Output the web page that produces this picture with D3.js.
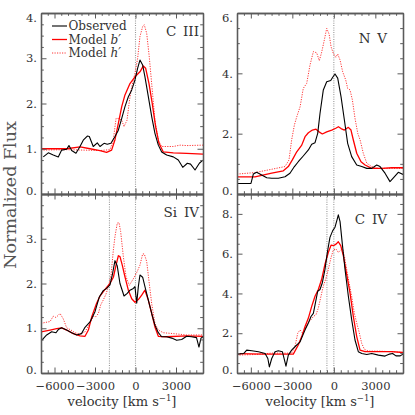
<!DOCTYPE html>
<html>
<head>
<meta charset="utf-8">
<script src="https://cdn.jsdelivr.net/npm/d3@7"></script>
<style>
  body { margin: 0; background: #fff; }
  text { font-family: "DejaVu Serif", serif; fill: #333; }
</style>
</head>
<body>
<div id="chart"></div>
<script>
// Line profiles, [velocity km/s, normalized flux]
const ciiiObserved = [[-6830,0.82],[-6460,0.91],[-6090,0.86],[-5720,0.82],[-5470,0.97],[-5100,0.99],[-4930,1.07],[-4730,0.96],[-4410,0.90],[-4110,1.05],[-3870,1.19],[-3570,1.28],[-3420,1.27],[-3130,1.05],[-2830,1.13],[-2630,1.05],[-2330,1.12],[-2090,1.10],[-1820,1.12],[-1520,1.27],[-1270,1.41],[-1020,1.67],[-780,1.93],[-530,2.15],[-280,2.30],[-40,2.52],[160,2.78],[330,2.96],[530,2.85],[700,2.59],[950,2.15],[1200,1.71],[1440,1.34],[1690,1.08],[1940,0.93],[2310,0.86],[2800,0.82],[3170,0.75],[3500,0.59],[3840,0.68],[4080,0.66],[4410,0.53],[4730,0.68],[5000,0.75]]
const ciiiModelB = [[-7000,1.0],[-5100,1.0],[-4100,1.04],[-3370,1.0],[-2630,0.96],[-2140,0.92],[-1770,0.97],[-1520,1.2],[-1270,1.56],[-1020,1.93],[-780,2.19],[-410,2.44],[-40,2.59],[330,2.70],[580,2.83],[750,2.78],[1000,2.44],[1240,2.0],[1490,1.49],[1740,1.12],[2060,0.93],[2800,0.91],[3790,0.90],[5000,0.88]]
const ciiiModelH = [[-7000,0.97],[-5100,0.98],[-2630,0.96],[-1890,0.98],[-1640,1.2],[-1440,1.67],[-1270,1.67],[-1020,1.63],[-850,1.49],[-630,1.63],[-440,2.08],[-280,2.37],[-40,2.67],[160,3.0],[330,3.48],[530,3.70],[650,3.74],[830,3.55],[1020,3.03],[1240,2.30],[1440,1.63],[1690,1.19],[1940,1.05],[2310,1.05],[2800,1.05],[3300,1.08],[3790,1.07],[5000,1.08]]

const nvObserved = [[-7000,0.35],[-5990,0.35],[-5820,0.66],[-5580,0.72],[-5215,0.63],[-4850,0.54],[-4490,0.52],[-4010,0.52],[-3530,0.57],[-3170,0.69],[-2850,0.91],[-2570,1.07],[-2210,1.26],[-1840,1.46],[-1600,1.65],[-1360,1.70],[-1165,2.01],[-1000,2.67],[-760,3.45],[-515,3.72],[-225,3.76],[-80,3.87],[85,3.98],[280,3.84],[520,3.23],[760,2.46],[1000,1.68],[1290,1.24],[1655,0.96],[2015,0.91],[2380,0.85],[2740,0.85],[3100,0.96],[3340,0.91],[3700,0.69],[4060,0.41],[4370,0.57],[4660,0.72],[5000,0.65]]
const nvModelB = [[-7000,0.57],[-5700,0.57],[-4490,0.69],[-3650,0.77],[-3290,0.91],[-3000,1.13],[-2680,1.40],[-2320,1.62],[-2080,1.90],[-1840,2.03],[-1550,2.12],[-1290,2.15],[-1070,2.06],[-830,1.99],[-515,2.06],[-150,2.12],[140,2.18],[330,2.23],[520,2.17],[760,2.12],[1050,2.21],[1240,2.12],[1410,1.79],[1655,1.35],[1965,1.07],[2260,0.96],[2740,0.85],[3460,0.85],[4190,0.87],[5000,0.87]]
const nvModelH = [[-7000,0.66],[-5700,0.71],[-4490,0.82],[-3530,0.91],[-3240,1.13],[-3050,1.79],[-2850,2.29],[-2680,2.56],[-2440,2.89],[-2210,3.50],[-1960,3.67],[-1720,4.28],[-1480,4.72],[-1240,4.68],[-1050,4.42],[-880,4.70],[-690,5.10],[-515,5.49],[-340,5.30],[-200,4.88],[-35,4.66],[140,4.53],[280,4.64],[450,4.44],[640,4.05],[860,3.78],[1000,3.50],[1170,3.45],[1340,3.12],[1530,2.51],[1730,2.01],[1900,1.79],[2130,1.35],[2380,1.02],[2740,0.91],[3220,0.85],[4190,0.85],[5000,0.85]]

const sivObserved = [[-6950,0.73],[-6580,0.85],[-6210,0.92],[-5890,0.90],[-5720,0.97],[-5470,1.01],[-5100,0.96],[-4730,0.90],[-4360,0.85],[-4000,0.88],[-3740,1.02],[-3370,1.14],[-3000,1.37],[-2680,1.70],[-2390,1.84],[-2140,1.89],[-1890,1.97],[-1720,2.19],[-1520,2.51],[-1350,2.39],[-1150,2.00],[-850,1.72],[-610,1.78],[-410,1.85],[-160,1.89],[-40,1.93],[90,1.56],[210,1.93],[330,2.19],[530,2.14],[700,1.93],[950,1.63],[1200,1.33],[1440,1.07],[1690,0.90],[1940,0.81],[2310,0.81],[2680,0.78],[3050,0.73],[3420,0.75],[3790,0.82],[4150,0.81],[4520,0.79],[4700,0.58],[4850,0.78],[5000,0.81]]
const sivModelB = [[-7000,0.92],[-6330,0.96],[-5840,0.99],[-5470,1.01],[-5100,0.96],[-4610,0.88],[-4110,0.83],[-3740,0.82],[-3490,0.96],[-3240,1.26],[-2880,1.56],[-2630,1.72],[-2260,1.87],[-1890,2.00],[-1640,2.14],[-1440,2.41],[-1270,2.62],[-1150,2.60],[-980,2.41],[-780,2.15],[-530,1.85],[-280,1.66],[-40,1.58],[210,1.64],[460,1.74],[700,1.85],[950,1.63],[1200,1.33],[1440,1.03],[1690,0.82],[2310,0.81],[3790,0.83],[5000,0.82]]
const sivModelH = [[-7000,1.11],[-6330,1.15],[-6090,1.27],[-5890,1.24],[-5590,1.33],[-5350,1.21],[-5100,1.01],[-4780,0.96],[-4480,0.90],[-4110,0.87],[-3740,0.92],[-3370,1.11],[-3130,1.26],[-2930,1.26],[-2750,1.33],[-2580,1.52],[-2390,1.63],[-2190,1.76],[-2010,1.93],[-1810,2.19],[-1640,2.75],[-1520,3.05],[-1350,3.35],[-1220,3.36],[-1100,3.16],[-900,2.60],[-700,2.15],[-460,1.96],[-210,2.08],[-40,2.17],[130,2.27],[330,2.41],[530,2.66],[650,2.66],[830,2.49],[1020,2.00],[1200,1.55],[1440,1.11],[1690,0.96],[2060,0.90],[2800,0.88],[3790,0.85],[5000,0.85]]

const civObserved = [[-7000,0.95],[-6520,0.98],[-6300,1.15],[-5930,1.12],[-5450,1.07],[-4970,0.98],[-4770,0.73],[-4660,0.31],[-4490,0.73],[-4250,1.07],[-4010,1.12],[-3720,1.07],[-3580,0.68],[-3460,0.34],[-3290,0.90],[-3050,1.15],[-2810,1.32],[-2440,1.57],[-2080,2.17],[-1840,2.51],[-1650,2.84],[-1480,3.00],[-1310,3.60],[-1165,4.11],[-1000,4.20],[-830,4.54],[-640,5.21],[-470,6.06],[-280,6.82],[-80,7.16],[85,7.33],[250,7.75],[325,7.95],[450,7.61],[615,6.48],[810,5.21],[1050,3.86],[1290,2.68],[1530,1.66],[1770,1.07],[2020,0.98],[2380,0.93],[2740,0.98],[3220,0.90],[3700,0.85],[4030,0.95],[4250,0.98],[4490,0.86],[4800,0.86],[5000,0.95]]
const civModelB = [[-7000,0.97],[-5000,0.95],[-2930,0.95],[-2570,1.41],[-2320,1.83],[-2080,2.34],[-1840,2.76],[-1600,3.35],[-1360,3.86],[-1120,4.20],[-880,4.71],[-640,5.47],[-400,6.06],[-200,6.43],[-35,6.40],[160,6.48],[325,6.60],[500,6.40],[690,5.89],[930,4.96],[1170,4.03],[1410,2.84],[1655,1.83],[1895,1.15],[2260,1.07],[3220,1.07],[4190,1.07],[5000,1.03]]
const civModelH = [[-7000,0.90],[-5700,0.93],[-4490,1.00],[-3050,1.00],[-2810,1.32],[-2610,2.00],[-2440,2.17],[-2250,2.00],[-2080,2.17],[-1890,2.51],[-1650,2.68],[-1480,2.84],[-1290,2.93],[-1120,3.27],[-930,3.86],[-760,4.37],[-590,4.71],[-400,5.21],[-200,5.81],[-35,6.19],[160,6.23],[325,6.06],[500,6.19],[640,6.23],[760,5.89],[930,5.21],[1100,4.54],[1290,3.86],[1480,3.01],[1655,2.51],[1820,2.08],[2015,1.49],[2210,1.19],[2500,1.10],[3220,1.10],[4190,1.07],[5000,1.03]]

// Axis ranges and ticks
const velocityRange = [-7000, 5000]
const velocityTicks = [-6000, -3000, 0, 3000]
const panelNames = ["C III", "N V", "Si IV", "C IV"]
const fluxMax = [4, 6, 4, 9]
const fluxMajorStep = [1, 2, 1, 2]
const fluxMinorStep = [0.25, 0.5, 0.25, 0.5]
const restMarks = [[0], [0], [-1930, 0], [-500, 0]]     // dotted reference velocities
const legendLabels = ["Observed", "Model ", "Model "]
const legendItalic = ["", "b\u2032", "h\u2032"]

const WIDTH = 415
const HEIGHT = 415
const COLS = [{L:41, R:203}, {L:237, R:403}]
const ROWS = [{T:13, B:194}, {T:194, B:373}]
const AXIS_COLOR = "#5a5a5a"

let svg = d3.select("#chart").append("svg")
    .attr("width", WIDTH)
    .attr("height", HEIGHT)
    .style("display", "block")

svg.append("rect").attr("width", WIDTH).attr("height", HEIGHT).attr("fill", "#fff")

const profiles = [
    [ciiiObserved, ciiiModelB, ciiiModelH],
    [nvObserved, nvModelB, nvModelH],
    [sivObserved, sivModelB, sivModelH],
    [civObserved, civModelB, civModelH]
]

// style per series: observed, model b', model h'
const SERIES_STYLE = [
    {stroke:"#000", width:1.1, dash:null},
    {stroke:"#f00", width:1.3, dash:null},
    {stroke:"#ff3535", width:1.0, dash:"1.2,1.3"}
]

function styleAxis(g) {
    g.select(".domain").attr("stroke", AXIS_COLOR).attr("stroke-width", 1.3)
    g.selectAll(".tick line").attr("stroke", AXIS_COLOR).attr("stroke-width", 1)
    g.selectAll(".tick text").attr("fill", "#333")
        .style("font-family", "DejaVu Serif, serif").style("font-size", "11.5px")
}

function drawPanel(i) {
    const col = COLS[i % 2], row = ROWS[Math.floor(i / 2)]
    const isBottom = i >= 2

    let xScale = d3.scaleLinear().domain(velocityRange).range([col.L, col.R])
    let yScale = d3.scaleLinear().domain([0, fluxMax[i]]).range([row.B, row.T])

    const majors = d3.range(0, fluxMax[i] + 1e-6, fluxMajorStep[i])
    const minors = d3.range(0, fluxMax[i] + 1e-6, fluxMinorStep[i]).filter(v => !majors.includes(v))
    const xMinors = d3.range(-7000, 5001, 500).filter(v => !velocityTicks.includes(v))
    const labelled = isBottom ? majors.filter(v => v < fluxMax[i]) : majors

    let g = svg.append("g")
    const clipId = "clip" + i
    g.append("clipPath").attr("id", clipId)
        .append("rect").attr("x", col.L).attr("y", row.T)
        .attr("width", col.R - col.L).attr("height", row.B - row.T)

    let plot = g.append("g").attr("clip-path", "url(#" + clipId + ")")

    // dotted rest-velocity markers
    restMarks[i].forEach(v => {
        plot.append("line")
            .attr("x1", xScale(v)).attr("x2", xScale(v))
            .attr("y1", yScale(0)).attr("y2", yScale(fluxMax[i]))
            .attr("stroke", "#999").attr("stroke-width", 1.1)
            .attr("stroke-dasharray", "1,1.3")
    })

    let line = d3.line().x(d => xScale(d[0])).y(d => yScale(d[1]))

    // draw h' first, then b', observed on top
    ;[2, 1, 0].forEach(s => {
        const st = SERIES_STYLE[s]
        plot.append("path")
            .datum(profiles[i][s])
            .attr("d", line)
            .attr("fill", "none")
            .attr("stroke", st.stroke)
            .attr("stroke-width", st.width)
            .attr("stroke-linejoin", "round")
            .attr("stroke-dasharray", st.dash)
    })

    // left axis with labels
    let left = g.append("g").attr("transform", "translate(" + col.L + ",0)")
        .call(d3.axisLeft(yScale).tickValues(majors).tickSize(-5.5).tickSizeOuter(0).tickPadding(4)
            .tickFormat(d => labelled.includes(d) ? d + "." : ""))
    left.call(styleAxis)
    left.selectAll(".tick text")
        .attr("dy", d => d === 0 ? "0.05em" : (d === fluxMax[i] ? "0.75em" : "0.32em"))
    g.append("g").attr("transform", "translate(" + col.L + ",0)")
        .call(d3.axisLeft(yScale).tickValues(minors).tickSize(-2.8).tickSizeOuter(0).tickFormat(""))
        .call(styleAxis)

    // right axis, ticks only
    g.append("g").attr("transform", "translate(" + col.R + ",0)")
        .call(d3.axisRight(yScale).tickValues(majors).tickSize(-5.5).tickSizeOuter(0).tickFormat(""))
        .call(styleAxis)
    g.append("g").attr("transform", "translate(" + col.R + ",0)")
        .call(d3.axisRight(yScale).tickValues(minors).tickSize(-2.8).tickSizeOuter(0).tickFormat(""))
        .call(styleAxis)

    // bottom axis
    g.append("g").attr("transform", "translate(0," + row.B + ")")
        .call(d3.axisBottom(xScale).tickValues(velocityTicks).tickSize(-5.5).tickSizeOuter(0).tickPadding(9)
            .tickFormat(d => isBottom ? d3.format("")(d).replace("-", "\u2212") : ""))
        .call(styleAxis)
    g.append("g").attr("transform", "translate(0," + row.B + ")")
        .call(d3.axisBottom(xScale).tickValues(xMinors).tickSize(-2.8).tickSizeOuter(0).tickFormat(""))
        .call(styleAxis)

    // top axis, ticks only
    g.append("g").attr("transform", "translate(0," + row.T + ")")
        .call(d3.axisTop(xScale).tickValues(velocityTicks).tickSize(-5.5).tickSizeOuter(0).tickFormat(""))
        .call(styleAxis)
    g.append("g").attr("transform", "translate(0," + row.T + ")")
        .call(d3.axisTop(xScale).tickValues(xMinors).tickSize(-2.8).tickSizeOuter(0).tickFormat(""))
        .call(styleAxis)

    // ion label
    const nameParts = panelNames[i].split(" ")
    g.append("text")
        .attr("x", col.R - (i % 2 ? 16 : 4))
        .attr("y", row.T + (i % 2 ? 30 : 23))
        .attr("text-anchor", "end")
        .style("font-size", "13.5px")
        .text(nameParts[0] + "\u2002" + nameParts[1])

    // x label under bottom panels
    if (isBottom) {
        let t = g.append("text")
            .attr("x", (col.L + col.R) / 2)
            .attr("y", 406)
            .attr("text-anchor", "middle")
            .style("font-size", "13px")
        t.append("tspan").text("velocity [km s")
        t.append("tspan").attr("dy", -5).style("font-size", "8.5px").text("\u22121")
        t.append("tspan").attr("dy", 5).text("]")
    }
}

d3.range(4).forEach(drawPanel)

// legend in first panel
let legend = svg.append("g")
legendLabels.forEach((lab, k) => {
    const y = 26 + k * 13.5
    const st = SERIES_STYLE[k]
    legend.append("line")
        .attr("x1", 52).attr("x2", 67).attr("y1", y).attr("y2", y)
        .attr("stroke", st.stroke).attr("stroke-width", st.width)
        .attr("stroke-dasharray", st.dash)
    let t = legend.append("text").attr("x", 68.5).attr("y", y + 4).style("font-size", "12px")
    t.append("tspan").text(lab)
    if (legendItalic[k]) t.append("tspan").style("font-style", "italic").text(legendItalic[k])
})

// shared y label
svg.append("text")
    .attr("transform", "translate(16,195) rotate(-90)")
    .attr("text-anchor", "middle")
    .style("font-size", "17.5px")
    .style("fill", "#555")
    .text("Normalized Flux")
</script>
</body>
</html>
